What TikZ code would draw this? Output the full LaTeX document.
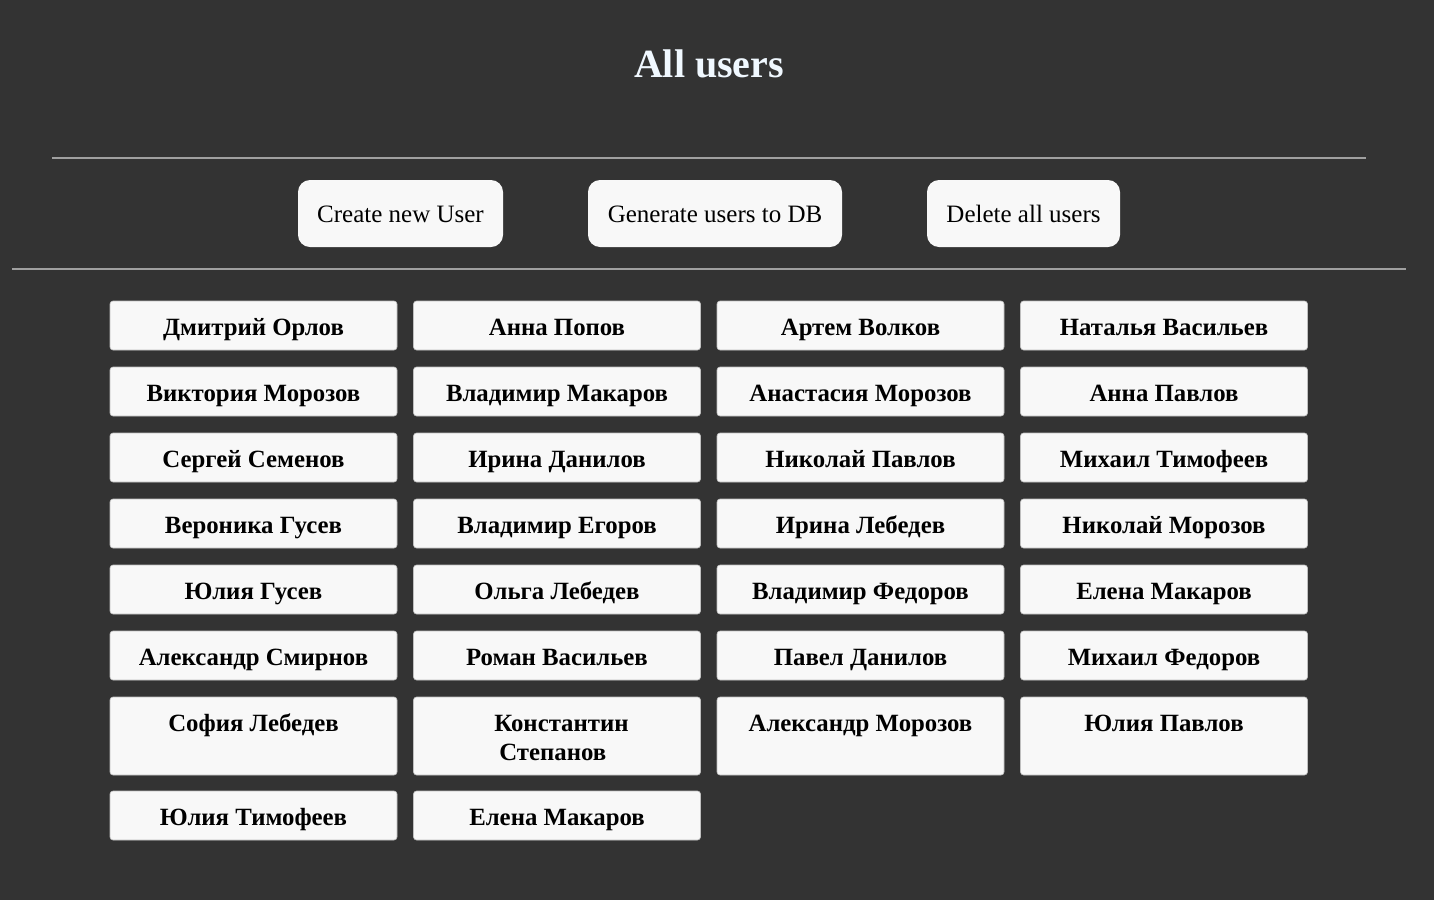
\documentclass[tikz,border=0pt]{standalone}
\usepackage{fontspec}
\setmainfont{Liberation Serif}
\usetikzlibrary{positioning}
\definecolor{pagebg}{HTML}{333333}
\definecolor{cardfill}{HTML}{F8F8F8}
\definecolor{rulegray}{HTML}{A0A0A0}
\definecolor{titlecol}{HTML}{F0F8FF}
\tikzset{x=0.5pt, y=-0.5pt, % one unit is one pixel of the page
user/.style={fill=cardfill, draw=gray!50, line width=0.3pt, rounded corners=1.5pt, minimum width=143.5pt, minimum height=24.5pt, inner sep=0pt, outer sep=0pt, font=\fontsize{12.4}{14.5}\selectfont\bfseries, text height=10.2pt, text depth=0pt},
usertall/.style={user, minimum height=39pt, text depth=14.5pt}, % tall card, name stays at the top
button/.style={fill=cardfill, rounded corners=6pt, minimum height=33.5pt, inner xsep=9.5pt, outer sep=0pt, font=\fontsize{12.5}{14}\selectfont, text height=9pt, text depth=0pt},
hrule/.style={draw=rulegray, line width=1pt},
}
\begin{document}
\begin{tikzpicture}
\fill[pagebg] (0,0) rectangle (1434,900);
\useasboundingbox (0,0) rectangle (1434,900);

\node[text=titlecol, font=\fontsize{20}{24}\selectfont\bfseries] (title) at (709,64) {All users};

\coordinate (topl) at (52,158);
\coordinate (topr) at (1366,158);
\draw[hrule] (topl) -- (topr);

\node[button, minimum width=102.5pt, anchor=north west] (create) at (298,180) {Create new User};
\node[button, minimum width=127pt, right=42.5pt of create] (generate) {Generate users to DB};
\node[button, minimum width=96.5pt, right=42.5pt of generate] (delete) {Delete all users};

\coordinate (midl) at (12,269);
\coordinate (midr) at (1406,269);
\draw[hrule] (midl) -- (midr);

% cards, row by row
\node[user, anchor=north west] (u1) at (110,301) {Дмитрий Орлов};
\node[user, right=8.25pt of u1] (u2) {Анна Попов};
\node[user, right=8.25pt of u2] (u3) {Артем Волков};
\node[user, right=8.25pt of u3] (u4) {Наталья Васильев};

\node[user, below=8.5pt of u1] (u5) {Виктория Морозов};
\node[user, right=8.25pt of u5] (u6) {Владимир Макаров};
\node[user, right=8.25pt of u6] (u7) {Анастасия Морозов};
\node[user, right=8.25pt of u7] (u8) {Анна Павлов};

\node[user, below=8.5pt of u5] (u9) {Сергей Семенов};
\node[user, right=8.25pt of u9] (u10) {Ирина Данилов};
\node[user, right=8.25pt of u10] (u11) {Николай Павлов};
\node[user, right=8.25pt of u11] (u12) {Михаил Тимофеев};

\node[user, below=8.5pt of u9] (u13) {Вероника Гусев};
\node[user, right=8.25pt of u13] (u14) {Владимир Егоров};
\node[user, right=8.25pt of u14] (u15) {Ирина Лебедев};
\node[user, right=8.25pt of u15] (u16) {Николай Морозов};

\node[user, below=8.5pt of u13] (u17) {Юлия Гусев};
\node[user, right=8.25pt of u17] (u18) {Ольга Лебедев};
\node[user, right=8.25pt of u18] (u19) {Владимир Федоров};
\node[user, right=8.25pt of u19] (u20) {Елена Макаров};

\node[user, below=8.5pt of u17] (u21) {Александр Смирнов};
\node[user, right=8.25pt of u21] (u22) {Роман Васильев};
\node[user, right=8.25pt of u22] (u23) {Павел Данилов};
\node[user, right=8.25pt of u23] (u24) {Михаил Федоров};

\node[usertall, below=8.5pt of u21] (u25) {София Лебедев};
\node[usertall, right=8.25pt of u25] (u26) {\begin{tabular}[t]{@{\hspace{4.5pt}}l@{}}Константин\\\hspace{2.5pt}Степанов\end{tabular}};
\node[usertall, right=8.25pt of u26] (u27) {Александр Морозов};
\node[usertall, right=8.25pt of u27] (u28) {Юлия Павлов};

\node[user, below=8pt of u25] (u29) {Юлия Тимофеев};
\node[user, right=8.25pt of u29] (u30) {Елена Макаров};
\end{tikzpicture}
\end{document}
